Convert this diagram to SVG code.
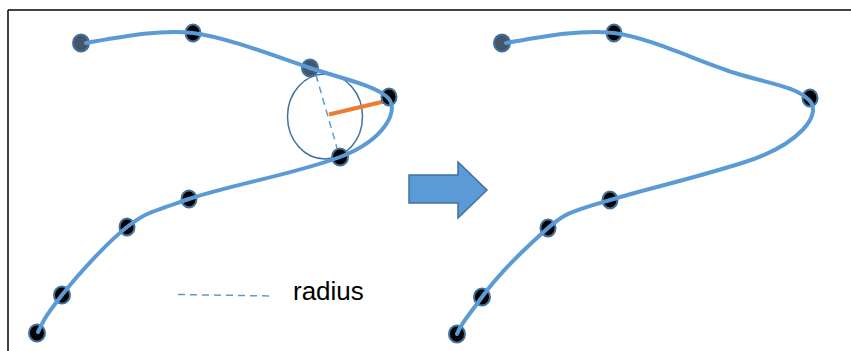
<svg xmlns="http://www.w3.org/2000/svg" width="851" height="351" viewBox="0 0 851 351">
<style>
.curve{fill:none;stroke:#5b9bd5;stroke-width:4;stroke-linecap:round}
.pt{fill:#000;stroke:#41719c;stroke-width:2}
.pt2{fill:#44546a;stroke:#41719c;stroke-width:2}
.dash{fill:none;stroke:#5b9bd5;stroke-width:1.5;stroke-dasharray:7 5}
</style>
<rect width="851" height="351" fill="#fff"/>
<g id="frame">
<line x1="8" y1="10" x2="851" y2="10" stroke="#404040" stroke-width="2"/>
<line x1="8" y1="10" x2="8" y2="351" stroke="#000" stroke-width="1.5"/>
</g>
<g id="circle">
<ellipse cx="325" cy="116.5" rx="37.5" ry="42.5" fill="none" stroke="#41719c" stroke-width="1.5"/>
<line class="dash" x1="316" y1="75" x2="337" y2="148"/>
<line x1="329" y1="114.5" x2="388" y2="100.5" stroke="#ed7d31" stroke-width="4"/>
</g>
<g id="left-nodes">
<ellipse class="pt2" cx="81" cy="43" rx="8" ry="8.5"/>
<ellipse class="pt" cx="193" cy="33" rx="7.5" ry="8.5"/>
<ellipse class="pt2" cx="310" cy="68" rx="8" ry="8.5"/>
<ellipse class="pt" cx="389" cy="97" rx="7.5" ry="8.5"/>
<ellipse class="pt" cx="340" cy="157" rx="8" ry="8.5"/>
<ellipse class="pt" cx="189" cy="199" rx="7.5" ry="8.5"/>
<ellipse class="pt" cx="127" cy="227" rx="7.5" ry="8.5"/>
<ellipse class="pt" cx="62" cy="295" rx="8" ry="8.5"/>
<ellipse class="pt" cx="37" cy="333" rx="8" ry="8.5"/>
</g>
<g id="right-nodes">
<ellipse class="pt2" cx="502" cy="43" rx="8" ry="8.5"/>
<ellipse class="pt" cx="614" cy="33" rx="7.5" ry="8.5"/>
<ellipse class="pt" cx="810" cy="98" rx="7.5" ry="8.5"/>
<ellipse class="pt" cx="610" cy="200" rx="7.5" ry="8.5"/>
<ellipse class="pt" cx="548" cy="228" rx="7.5" ry="8.5"/>
<ellipse class="pt" cx="482" cy="297" rx="8" ry="8.5"/>
<ellipse class="pt" cx="457" cy="334" rx="8" ry="8.5"/>
</g>
<g id="connectors">
<path class="curve" d="M 86,43 C 120,37 160,29 193,33 S 280,58 310,68 S 370,84 386,96 S 385,140 340,157 S 230,185 189,199 S 145,213 127,227 S 80,272 62,295 S 44,320 38,332"/>
<path class="curve" d="M 506,43 C 540,37 580,29 614,33 S 700,62 735,73 S 795,86 809,100 S 800,145 742,163 S 650,188 610,200 S 565,213 548,228 S 500,272 482,297 S 462,322 457,334"/>
</g>
<g id="arrow">
<polygon points="409,175 458,175 458,162 487,190 458,218 458,203 409,203" fill="#5b9bd5" stroke="#41719c" stroke-width="1.5"/>
</g>
<g id="legend">
<line class="dash" x1="178" y1="294.5" x2="273" y2="296"/>
<text x="293" y="300" font-family="Liberation Sans, Arial, sans-serif" font-size="26" fill="#000">radius</text>
</g>
</svg>
